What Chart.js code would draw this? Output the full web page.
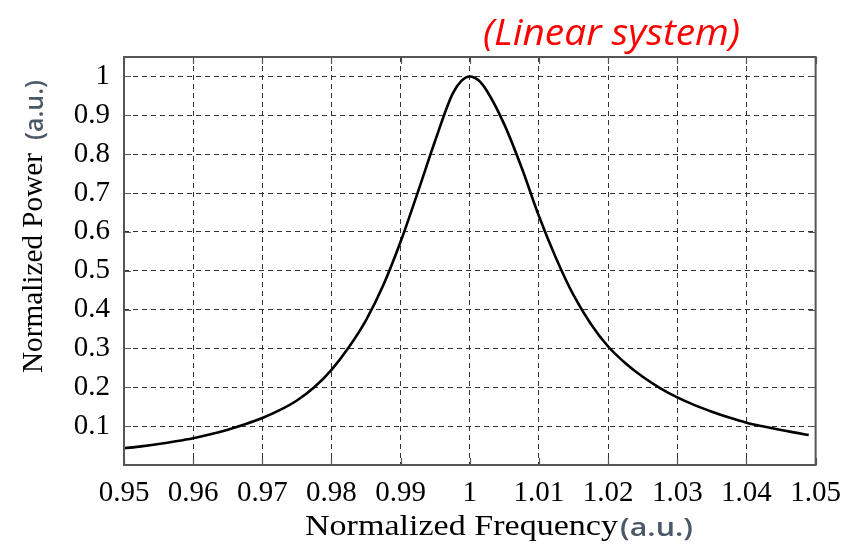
<!DOCTYPE html>
<html>
<head>
<meta charset="utf-8">
<script src="https://cdn.jsdelivr.net/npm/chart.js@4/dist/chart.umd.min.js"></script>
<style>
  html, body { margin: 0; padding: 0; background: #ffffff; }
  #wrap { width: 852px; height: 544px; position: relative; }
</style>
</head>
<body>
<div id="wrap"><canvas id="c" width="852" height="544"></canvas></div>
<script>
// Resonance response of the linear system (normalized units)
const freq = [
  0.9500, 0.9525, 0.9550, 0.9575, 0.9600, 0.9625, 0.9650, 0.9675, 0.9700, 0.9725,
  0.9750, 0.9775, 0.9800, 0.9825, 0.9850, 0.9875, 0.9900, 0.9925, 0.9950, 0.9975,
  0.99875, 1.0000, 1.00125, 1.0025, 1.0050, 1.0075, 1.0100, 1.0125, 1.0150, 1.0175,
  1.0200, 1.0225, 1.0250, 1.0275, 1.0300, 1.0325, 1.0350, 1.0375, 1.0400, 1.0425,
  1.0450, 1.0475, 1.0490
];
const power = [
  0.043, 0.048, 0.054, 0.061, 0.069, 0.079, 0.091, 0.105, 0.121, 0.141,
  0.166, 0.200, 0.245, 0.303, 0.373, 0.463, 0.575, 0.703, 0.835, 0.955,
  0.988, 1.000, 0.990, 0.962, 0.876, 0.765, 0.640, 0.531, 0.437, 0.363,
  0.305, 0.262, 0.227, 0.198, 0.174, 0.154, 0.137, 0.122, 0.109, 0.099,
  0.090, 0.082, 0.077
];

const xTicks = [0.95, 0.96, 0.97, 0.98, 0.99, 1.00, 1.01, 1.02, 1.03, 1.04, 1.05];
const xTickLabels = ['0.95', '0.96', '0.97', '0.98', '0.99', '1', '1.01', '1.02', '1.03', '1.04', '1.05'];
const yTicks = [0.1, 0.2, 0.3, 0.4, 0.5, 0.6, 0.7, 0.8, 0.9, 1.0];
const yTickLabels = ['0.1', '0.2', '0.3', '0.4', '0.5', '0.6', '0.7', '0.8', '0.9', '1'];

const titleText = '(Linear system)';
const xTitleMain = 'Normalized Frequency';
const yTitleMain = 'Normalized Power';
const unitText = '(a.u.)';

const SERIF = '"Liberation Serif", "Times New Roman", serif';
const SANS = '"Open Sans", "Noto Sans", sans-serif';
const FRAME = '#555555';
const UNIT_COLOR = '#4a5868';

// draws text starting at (x, y) stretched to the given width
function fitText(ctx, text, font, x, y, width) {
  ctx.font = font;
  const w = ctx.measureText(text).width;
  ctx.save();
  ctx.translate(x, y);
  ctx.scale(width / w, 1);
  ctx.fillText(text, 0, 0);
  ctx.restore();
}

// frame, inward tick marks and the text around the plot
const decorations = {
  id: 'decorations',
  afterDraw(chart) {
    const { ctx, chartArea: a, scales } = chart;
    const xs = scales.x, ys = scales.y;
    ctx.save();

    // inward ticks on all four sides
    ctx.strokeStyle = FRAME;
    ctx.lineWidth = 1.2;
    const tl = 7;
    ctx.beginPath();
    xTicks.forEach(v => {
      const px = Math.round(xs.getPixelForValue(v)) + 0.5;
      ctx.moveTo(px, a.top); ctx.lineTo(px, a.top + tl);
      ctx.moveTo(px, a.bottom); ctx.lineTo(px, a.bottom - tl);
    });
    yTicks.forEach(v => {
      const py = Math.round(ys.getPixelForValue(v)) + 0.5;
      ctx.moveTo(a.left, py); ctx.lineTo(a.left + tl, py);
      ctx.moveTo(a.right, py); ctx.lineTo(a.right - tl, py);
    });
    ctx.stroke();

    // plot frame
    ctx.lineWidth = 2;
    ctx.strokeRect(a.left, a.top, a.right - a.left, a.bottom - a.top);

    ctx.textBaseline = 'alphabetic';
    ctx.textAlign = 'left';

    // red subtitle, slightly condensed italic
    ctx.fillStyle = '#ff0000';
    fitText(ctx, titleText, 'italic 37px ' + SANS, 483, 45, 257);

    // x axis title
    ctx.fillStyle = '#000000';
    fitText(ctx, xTitleMain, '30px ' + SERIF, 305, 535, 313);
    ctx.fillStyle = UNIT_COLOR;
    fitText(ctx, unitText, '600 26px ' + SANS, 620, 536, 73);

    // y axis title (rotated)
    ctx.save();
    ctx.translate(42, 373);
    ctx.rotate(-Math.PI / 2);
    ctx.fillStyle = '#000000';
    fitText(ctx, yTitleMain, '29px ' + SERIF, 0, 0, 220);
    ctx.fillStyle = UNIT_COLOR;
    fitText(ctx, unitText, '600 25px ' + SANS, 233, 1, 60);
    ctx.restore();

    ctx.restore();
  }
};

new Chart(document.getElementById('c'), {
  type: 'line',
  data: {
    datasets: [{
      data: freq.map((f, i) => ({ x: f, y: power[i] })),
      borderColor: '#000000',
      borderWidth: 2.6,
      pointRadius: 0,
      fill: false,
      cubicInterpolationMode: 'monotone'
    }]
  },
  options: {
    responsive: false,
    animation: false,
    events: [],
    layout: { padding: { left: 0, top: 57, right: 31, bottom: 0 } },
    plugins: { legend: { display: false }, tooltip: { enabled: false }, title: { display: false } },
    scales: {
      x: {
        type: 'linear',
        min: 0.95,
        max: 1.05,
        afterBuildTicks: s => { s.ticks = xTicks.map(v => ({ value: v })); },
        afterFit: s => { s.height = 79; },
        ticks: {
          autoSkip: false,
          maxRotation: 0,
          padding: 11,
          color: '#000000',
          font: { family: SERIF, size: 29 },
          callback: (v, i) => xTickLabels[i]
        },
        grid: {
          drawTicks: false,
          color: '#333333',
          lineWidth: 1
        },
        border: { display: false, dash: [5, 4] }
      },
      y: {
        type: 'linear',
        min: 0,
        max: 1.05,
        afterBuildTicks: s => { s.ticks = yTicks.map(v => ({ value: v })); },
        afterFit: s => { s.width = 124; },
        ticks: {
          autoSkip: false,
          padding: 14,
          color: '#000000',
          font: { family: SERIF, size: 29 },
          callback: (v, i) => yTickLabels[i]
        },
        grid: {
          drawTicks: false,
          color: '#333333',
          lineWidth: 1
        },
        border: { display: false, dash: [5, 4] }
      }
    }
  },
  plugins: [decorations]
});
</script>
</body>
</html>
